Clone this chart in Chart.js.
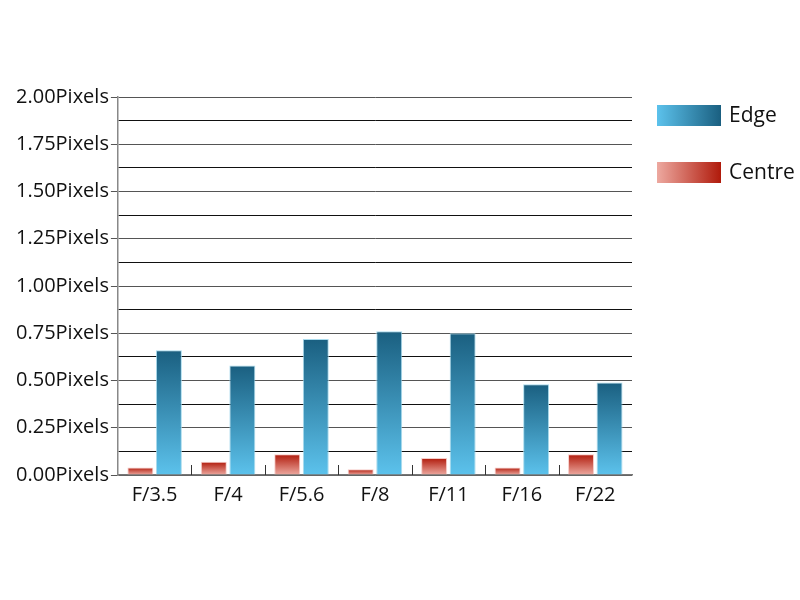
<!DOCTYPE html>
<html>
<head>
<meta charset="utf-8">
<script src="https://cdn.jsdelivr.net/npm/chart.js@4"></script>
<style>
  html, body { margin: 0; padding: 0; background: #fff; }
  #wrap { width: 800px; height: 600px; }
</style>
</head>
<body>
<div id="wrap"><canvas id="myChart"></canvas></div>
<script>
const apertures = ["F/3.5", "F/4", "F/5.6", "F/8", "F/11", "F/16", "F/22"];
const centreValues = [0.04, 0.07, 0.11, 0.03, 0.09, 0.04, 0.11];
const edgeValues = [0.66, 0.58, 0.72, 0.76, 0.75, 0.48, 0.49];
const seriesNames = ["Centre", "Edge"];
const yMax = 2;
const yStep = 0.125;

const FONT = "'Open Sans', 'DejaVu Sans', sans-serif";

// vertical gradient from the top of each bar down to the base
function barGradient(dark, light) {
  return (c) => {
    const chart = c.chart;
    if (!chart.chartArea || c.type !== "data") return light;
    const y = chart.scales.y;
    const top = y.getPixelForValue(c.raw);
    const base = y.getPixelForValue(0);
    if (!(base - top > 0)) return light;
    const g = chart.ctx.createLinearGradient(0, top, 0, base);
    g.addColorStop(0, dark);
    g.addColorStop(1, light);
    return g;
  };
}

const colours = {
  Centre: { dark: "#b01a0b", light: "#eda9a0" },
  Edge: { dark: "#1a5f80", light: "#5cc2ec" },
};

const isMajor = (v) => Math.abs(v / 0.25 - Math.round(v / 0.25)) < 1e-6;

// small tick marks between categories, pointing up from the baseline
const catTicks = {
  id: "catTicks",
  afterDatasetsDraw(chart) {
    const x = chart.scales.x;
    const base = chart.scales.y.getPixelForValue(0);
    const ctx = chart.ctx;
    ctx.save();
    ctx.strokeStyle = "#333";
    ctx.lineWidth = 1;
    for (let i = 0; i < apertures.length - 1; i++) {
      const px = Math.round((x.getPixelForValue(i) + x.getPixelForValue(i + 1)) / 2) + 0.5;
      ctx.beginPath();
      ctx.moveTo(px, base);
      ctx.lineTo(px, base - 10);
      ctx.stroke();
    }
    ctx.restore();
  },
};

// legend on the right, edge first
const sideLegend = {
  id: "sideLegend",
  afterDraw(chart) {
    const ctx = chart.ctx;
    const left = chart.chartArea.right + 25;
    const order = ["Edge", "Centre"];
    ctx.save();
    order.forEach((name, i) => {
      const top = 105 + i * 57;
      const g = ctx.createLinearGradient(left, 0, left + 64, 0);
      g.addColorStop(0, colours[name].light);
      g.addColorStop(1, colours[name].dark);
      ctx.fillStyle = g;
      ctx.fillRect(left, top, 64, 21);
      ctx.fillStyle = "#111";
      ctx.font = "21px " + FONT;
      ctx.textBaseline = "middle";
      ctx.textAlign = "left";
      ctx.fillText(name, left + 72, top + 11);
    });
    ctx.restore();
  },
};

const canvas = document.getElementById("myChart");
const ctx = canvas.getContext("2d");

new Chart(ctx, {
  type: "bar",
  data: {
    labels: apertures,
    datasets: [
      {
        label: seriesNames[0],
        data: centreValues,
        backgroundColor: barGradient(colours.Centre.dark, colours.Centre.light),
        borderColor: "rgba(245,200,195,0.9)",
        borderWidth: 1,
        categoryPercentage: 0.777,
        barPercentage: 0.91,
      },
      {
        label: seriesNames[1],
        data: edgeValues,
        backgroundColor: barGradient(colours.Edge.dark, colours.Edge.light),
        borderColor: "rgba(160,215,235,0.9)",
        borderWidth: 1,
        categoryPercentage: 0.777,
        barPercentage: 0.91,
      },
    ],
  },
  options: {
    responsive: true,
    maintainAspectRatio: false,
    animation: false,
    layout: { padding: { left: 14, right: 168, top: 97, bottom: 93 } },
    plugins: {
      legend: { display: false },
      tooltip: { enabled: false },
    },
    scales: {
      x: {
        grid: { display: false },
        border: { color: "#777", width: 1.5 },
        ticks: { color: "#111", font: { family: FONT, size: 20 }, padding: 0 },
      },
      y: {
        min: 0,
        max: yMax,
        border: { color: "#888", width: 1.5 },
        grid: {
          color: (c) => (isMajor(c.tick.value) ? "#555" : "#111"),
          tickColor: (c) => (isMajor(c.tick.value) ? "#555" : "rgba(0,0,0,0)"),
          tickLength: 7,
          lineWidth: 1,
        },
        ticks: {
          stepSize: yStep,
          autoSkip: false,
          color: "#111",
          padding: 2,
          font: { family: FONT, size: 20 },
          callback: (v) => (isMajor(v) ? v.toFixed(2) + "Pixels" : ""),
        },
      },
    },
  },
  plugins: [catTicks, sideLegend],
});
</script>
</body>
</html>
